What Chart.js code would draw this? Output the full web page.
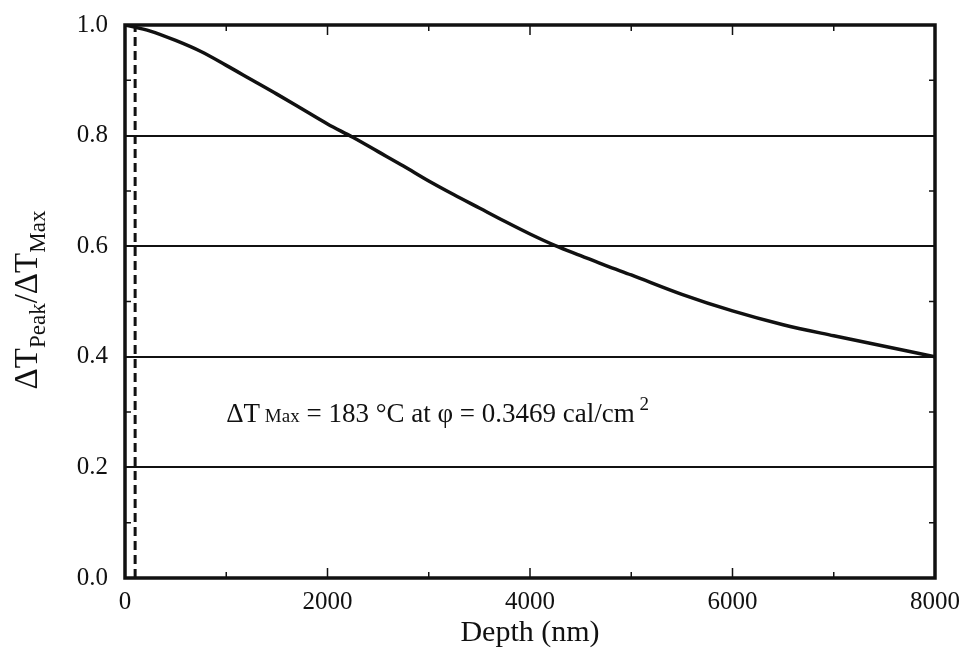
<!DOCTYPE html>
<html>
<head>
<meta charset="utf-8">
<script src="https://cdn.jsdelivr.net/npm/chart.js@4.4.0/dist/chart.umd.min.js"></script>
<style>
html,body{margin:0;padding:0;background:#fff;}
#wrap{width:959px;height:651px;}
</style>
</head>
<body>
<div id="wrap"><canvas id="c" width="959" height="651"></canvas></div>
<script>
const depth = [0,250,500,750,1000,1250,1500,1750,2000,2250,2500,2750,3000,3250,3500,3750,4000,4250,4500,4750,5000,5500,6000,6500,7000,7500,8000];
const ratio = [1.0,0.989,0.972,0.952,0.927,0.901,0.875,0.848,0.821,0.797,0.771,0.745,0.718,0.693,0.669,0.645,0.622,0.601,0.583,0.565,0.548,0.513,0.483,0.458,0.438,0.419,0.400];
const markerDepth = [100,100];
const markerRatio = [0,1];
const xTicks = [0,2000,4000,6000,8000];
const yTicks = [0.0,0.2,0.4,0.6,0.8,1.0];
const annotation = {x:1000, y:0.282};

const FONT = "'Liberation Serif','DejaVu Serif',serif";

const decor = {
  id:'decor',
  beforeDatasetsDraw(chart){
    const {ctx, chartArea:a, scales:{x,y}} = chart;
    ctx.save();
    ctx.strokeStyle='#111';
    ctx.lineWidth=2;
    [0.2,0.4,0.6,0.8].forEach(v=>{
      const py=Math.round(y.getPixelForValue(v));
      ctx.beginPath();ctx.moveTo(a.left,py);ctx.lineTo(a.right,py);ctx.stroke();
    });
    ctx.restore();
  },
  afterDraw(chart){
    const {ctx, chartArea:a, scales:{x,y}} = chart;
    ctx.save();
    ctx.strokeStyle='#111';
    ctx.lineWidth=1.5;
    for(let v=1000; v<8000; v+=1000){
      const px=x.getPixelForValue(v);
      const len = (v%2000===0)?10:6;
      ctx.beginPath();ctx.moveTo(px,a.bottom);ctx.lineTo(px,a.bottom-len);
      ctx.moveTo(px,a.top);ctx.lineTo(px,a.top+len);ctx.stroke();
    }
    for(let v=0.1; v<1.0; v+=0.2){
      const py=y.getPixelForValue(v);
      ctx.beginPath();ctx.moveTo(a.left,py);ctx.lineTo(a.left+6,py);
      ctx.moveTo(a.right,py);ctx.lineTo(a.right-6,py);ctx.stroke();
    }
    ctx.lineWidth=3.5;
    ctx.strokeRect(a.left,a.top,a.right-a.left,a.bottom-a.top);
    // annotation
    let ax=x.getPixelForValue(annotation.x), ay=y.getPixelForValue(annotation.y);
    ctx.fillStyle='#111';
    ctx.textBaseline='alphabetic';
    ctx.textAlign='left';
    const big="27px "+FONT, small="19px "+FONT;
    const parts=[["\u0394T",big,0],[" Max",small,0],[" = 183 \u00B0C at \u03C6 = 0.3469 cal/cm",big,0],[" 2",small,-12]];
    parts.forEach(([t,f,dy])=>{ctx.font=f;ctx.fillText(t,ax,ay+dy);ax+=ctx.measureText(t).width;});
    // y title with subscripts
    ctx.translate(37,300);
    ctx.rotate(-Math.PI/2);
    const b2="33px "+FONT, s2="23px "+FONT;
    const tparts=[["\u0394T",b2,0],["Peak",s2,8],["/\u0394T",b2,0],["Max",s2,8]];
    let w=0; tparts.forEach(([t,f])=>{ctx.font=f;w+=ctx.measureText(t).width;});
    let tx=-w/2;
    tparts.forEach(([t,f,dy])=>{ctx.font=f;ctx.fillText(t,tx,dy);tx+=ctx.measureText(t).width;});
    ctx.restore();
  }
};

new Chart(document.getElementById('c'),{
  type:'line',
  data:{datasets:[
    {data:depth.map((d,i)=>({x:d,y:ratio[i]})),borderColor:'#111',borderWidth:3.5,pointRadius:0,cubicInterpolationMode:'monotone'},
    {data:markerDepth.map((d,i)=>({x:d,y:markerRatio[i]})),borderColor:'#111',borderWidth:3,borderDash:[9,5],pointRadius:0}
  ]},
  options:{
    responsive:false,animation:false,
    layout:{padding:{left:0,right:24,top:25,bottom:0}},
    plugins:{legend:{display:false},tooltip:{enabled:false}},
    scales:{
      x:{type:'linear',min:0,max:8000,
        afterFit(s){s.height=73;s.paddingLeft=0;s.paddingRight=0;},
        afterBuildTicks(s){s.ticks=xTicks.map(v=>({value:v}));},
        grid:{display:false,drawTicks:false},border:{display:false},
        ticks:{color:'#111',font:{family:FONT,size:25},padding:9,maxRotation:0,callback:v=>String(v)},
        title:{display:true,text:'Depth (nm)',color:'#111',font:{family:FONT,size:30},padding:{top:0,bottom:0}}
      },
      y:{min:0,max:1.0,
        afterFit(s){s.width=125;s.paddingTop=0;s.paddingBottom=0;},
        afterBuildTicks(s){s.ticks=yTicks.map(v=>({value:v}));},
        grid:{display:false,drawTicks:false},border:{display:false},
        ticks:{color:'#111',font:{family:FONT,size:25},padding:17,callback:v=>v.toFixed(1)}
      }
    }
  },
  plugins:[decor]
});
</script>
</body>
</html>
